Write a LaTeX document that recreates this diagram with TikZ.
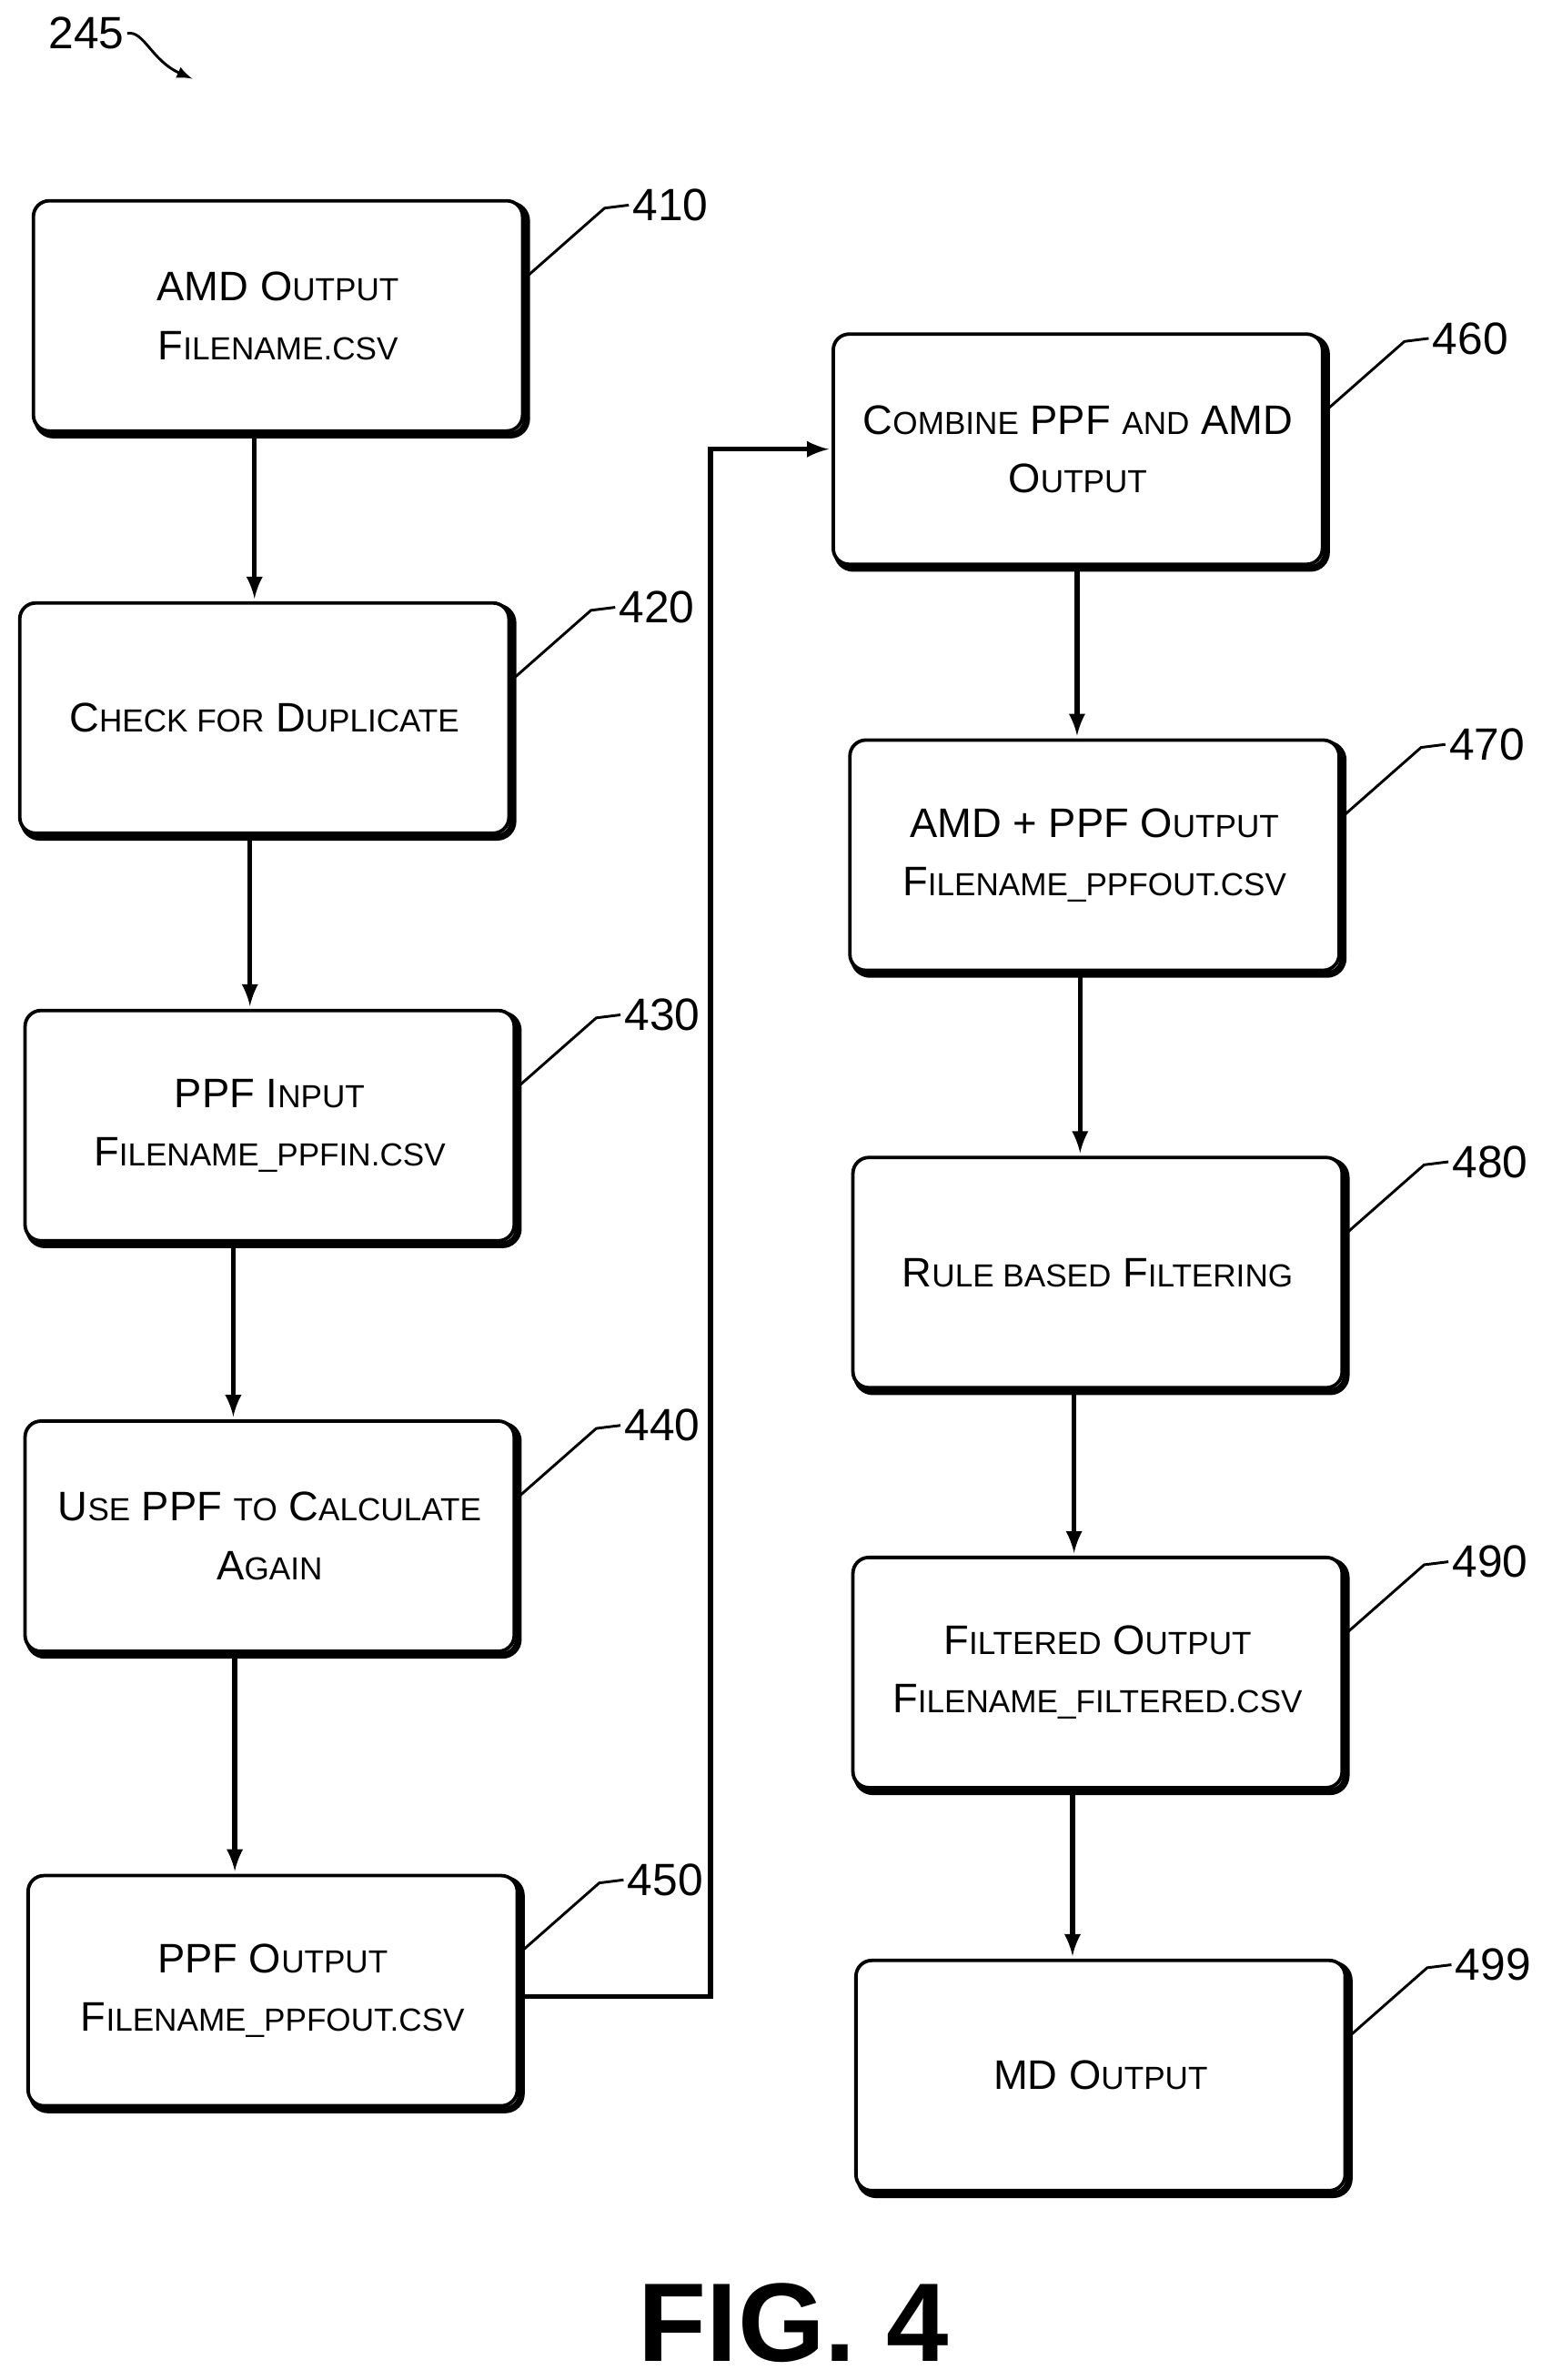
\documentclass[tikz,border=0pt]{standalone}
\usepackage{fontspec}
\setmainfont{Liberation Sans}
\usetikzlibrary{calc}
\newcommand{\Sm}[1]{{\fontsize{12}{15}\selectfont\uppercase{#1}}}
\tikzset{
  block/.style={draw, line width=1.3pt, rounded corners=6pt, fill=white,
    minimum width=6.46cm, minimum height=3.04cm, align=center,
    font=\fontsize{15.5}{22}\selectfont,
    preaction={draw, line width=2.6pt, rounded corners=6pt, transform canvas={xshift=1.5pt,yshift=-1.5pt}}},
  flow/.style={-latex, line width=1.8pt, shorten >=1pt},
  ref/.style={line width=1pt},
  reflabel/.style={font=\fontsize{17}{20}\selectfont, inner sep=1pt}
}
\begin{document}
\begin{tikzpicture}[x=0.02cm, y=-0.02cm]
\useasboundingbox (0,0) rectangle (1024,1571);

% left column
\node[block] (amdout) at (183.5,208.5) {AMD O\Sm{utput}\\F\Sm{ilename.csv}};
\node[block] (dupl) at (174.5,474) {C\Sm{heck for} D\Sm{uplicate}};
\node[block] (ppfin) at (178,743) {PPF I\Sm{nput}\\F\Sm{ilename\_ppfin.csv}};
\node[block] (calc) at (178,1014) {U\Sm{se} PPF \Sm{to} C\Sm{alculate}\\A\Sm{gain}};
\node[block] (ppfout) at (180,1314) {PPF O\Sm{utput}\\F\Sm{ilename\_ppfout.csv}};

% right column
\node[block] (comb) at (711.5,296.5) {C\Sm{ombine} PPF \Sm{and} AMD\\O\Sm{utput}};
\node[block] (amdppf) at (722.5,564.5) {AMD + PPF O\Sm{utput}\\F\Sm{ilename\_ppfout.csv}};
\node[block] (rule) at (724.5,840) {R\Sm{ule based} F\Sm{iltering}};
\node[block] (filt) at (724.5,1104) {F\Sm{iltered} O\Sm{utput}\\F\Sm{ilename\_filtered.csv}};
\node[block] (md) at (726.5,1370) {MD O\Sm{utput}};

% connectors
\draw[flow] (amdout.south -| 168,0) -- (dupl.north -| 168,0);
\draw[flow] (dupl.south -| 165,0) -- (ppfin.north -| 165,0);
\draw[flow] (ppfin.south -| 154,0) -- (calc.north -| 154,0);
\draw[flow] (calc.south -| 155,0) -- (ppfout.north -| 155,0);
\coordinate (bend) at (469,1318);
\draw[flow] (ppfout.east |- bend) -- (bend) |- (comb.west);
\draw[flow] (comb.south -| 711,0) -- (amdppf.north -| 711,0);
\draw[flow] (amdppf.south -| 713,0) -- (rule.north -| 713,0);
\draw[flow] (rule.south -| 709,0) -- (filt.north -| 709,0);
\draw[flow] (filt.south -| 708,0) -- (md.north -| 708,0);

% reference numerals
\foreach \n/\lab in {amdout/410, dupl/420, ppfin/430, calc/440, ppfout/450,
                     comb/460, amdppf/470, rule/480, filt/490, md/499}{
  \draw[ref] ($(\n.north east)+(3,50)$) -- ++(50,-44) -- ++(16,-2)
    node[reflabel, right] {\lab};
}

% figure reference
\node[reflabel] (fignum) at (57,22) {245};
\coordinate (figtip) at (127,52);
\draw[ref, -latex] (fignum.east) .. controls (95,20) and (100,40) .. (figtip);

\node[font=\fontsize{42}{46}\selectfont\bfseries] (caption) at (524,1533) {FIG. 4};
\end{tikzpicture}
\end{document}
